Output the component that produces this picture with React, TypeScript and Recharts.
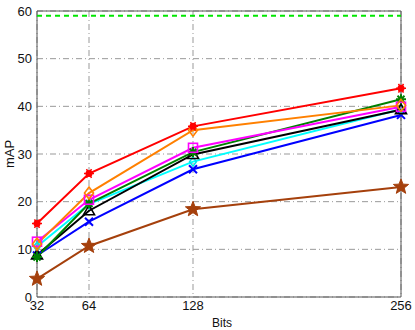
import React from "react";
import {
  CartesianGrid,
  Line,
  LineChart,
  ReferenceArea,
  ReferenceLine,
  XAxis,
  YAxis,
} from "recharts";

const bits = [32, 64, 128, 256];
const yTicks = [0, 10, 20, 30, 40, 50, 60];
const upperBound = 59;

const redSeries = [15.4, 25.9, 35.8, 43.8];
const orangeSeries = [11.1, 21.8, 35.0, 40.2];
const magentaSeries = [11.6, 20.4, 31.3, 39.9];
const cyanSeries = [10.6, 19.5, 28.4, 39.4];
const greenSeries = [8.4, 19.6, 30.4, 41.5];
const blackSeries = [8.8, 18.1, 29.9, 39.3];
const blueSeries = [8.7, 15.8, 26.8, 38.2];
const brownSeries = [3.8, 10.7, 18.4, 23.1];

const data = bits.map((b, i) => ({
  bits: b,
  red: redSeries[i],
  orange: orangeSeries[i],
  magenta: magentaSeries[i],
  cyan: cyanSeries[i],
  green: greenSeries[i],
  black: blackSeries[i],
  blue: blueSeries[i],
  brown: brownSeries[i],
}));

type DotProps = { cx?: number; cy?: number; index?: number };

const RedDot = ({ cx = 0, cy = 0, index }: DotProps) => (
  <g key={index}>
    <circle cx={cx} cy={cy} r={3.5} fill="#ff0000" />
    <path
      d={`M${cx - 5},${cy} L${cx + 5},${cy} M${cx - 2.5},${cy - 4.3} L${cx + 2.5},${cy + 4.3} M${cx - 2.5},${cy + 4.3} L${cx + 2.5},${cy - 4.3}`}
      stroke="#ff0000"
      strokeWidth={1.5}
    />
  </g>
);

const DiamondDot = (color: string, s: number) => ({ cx = 0, cy = 0, index }: DotProps) => (
  <path
    key={index}
    d={`M${cx},${cy - s} L${cx + s * 0.75},${cy} L${cx},${cy + s} L${cx - s * 0.75},${cy} Z`}
    fill="none"
    stroke={color}
    strokeWidth={1.6}
  />
);

const SquareDot = ({ cx = 0, cy = 0, index }: DotProps) => (
  <rect key={index} x={cx - 4.5} y={cy - 4.5} width={9} height={9} fill="none" stroke="#ff00ff" strokeWidth={1.6} />
);

const PlusStarDot = ({ cx = 0, cy = 0, index }: DotProps) => (
  <path
    key={index}
    d={`M${cx - 5},${cy} L${cx + 5},${cy} M${cx},${cy - 5} L${cx},${cy + 5} M${cx - 3.5},${cy - 3.5} L${cx + 3.5},${cy + 3.5} M${cx - 3.5},${cy + 3.5} L${cx + 3.5},${cy - 3.5}`}
    stroke="#008000"
    strokeWidth={2}
  />
);

const TriangleDot = ({ cx = 0, cy = 0, index }: DotProps) => (
  <path
    key={index}
    d={`M${cx},${cy - 5.5} L${cx + 5.5},${cy + 4} L${cx - 5.5},${cy + 4} Z`}
    fill="none"
    stroke="#000000"
    strokeWidth={1.6}
  />
);

const CrossDot = ({ cx = 0, cy = 0, index }: DotProps) => (
  <path
    key={index}
    d={`M${cx - 4},${cy - 4} L${cx + 4},${cy + 4} M${cx - 4},${cy + 4} L${cx + 4},${cy - 4}`}
    stroke="#0000ff"
    strokeWidth={2}
  />
);

const StarDot = ({ cx = 0, cy = 0, index }: DotProps) => {
  const pts: string[] = [];
  for (let k = 0; k < 10; k++) {
    const r = k % 2 === 0 ? 8 : 3.4;
    const a = -Math.PI / 2 + (k * Math.PI) / 5;
    pts.push(`${cx + r * Math.cos(a)},${cy + r * Math.sin(a)}`);
  }
  return <polygon key={index} points={pts.join(" ")} fill="#a5400c" stroke="#a5400c" strokeWidth={1} />;
};

const font = "Liberation Sans, Arial, sans-serif";
const tickStyle = { fill: "#111", fontSize: 13, fontFamily: font };

export default function App() {
  return (
    <div style={{ position: "absolute", left: 0, top: 0, width: 415, height: 330, background: "#fff" }}>
      <LineChart width={415} height={330} data={data} margin={{ top: 11, right: 14, bottom: 0, left: 0 }}>
        <CartesianGrid stroke="#999" strokeDasharray="6 3 1 3" />
        <XAxis
          type="number"
          dataKey="bits"
          domain={[32, 256]}
          ticks={bits}
          height={33}
          tickLine={false}
          axisLine={false}
          tickSize={0}
          tickMargin={4}
          tick={tickStyle}
          label={{
            content: ({ viewBox }: any) => (
              <text x={viewBox.x + viewBox.width / 2 + 3} y={viewBox.y + 30} textAnchor="middle" fontSize={12} fontFamily={font} fill="#111">
                Bits
              </text>
            ),
          }}
        />
        <YAxis
          type="number"
          domain={[0, 60]}
          ticks={yTicks}
          width={37}
          tickLine={false}
          axisLine={false}
          tickSize={0}
          tickMargin={5}
          tick={tickStyle}
          label={{
            content: ({ viewBox }: any) => {
              const cx = 14;
              const cy = viewBox.y + viewBox.height / 2;
              return (
                <text x={cx} y={cy} transform={`rotate(-90 ${cx} ${cy})`} textAnchor="middle" fontSize={13} fontFamily={font} fill="#111">
                  mAP
                </text>
              );
            },
          }}
        />
        <ReferenceLine y={upperBound} stroke="#00e600" strokeWidth={2} strokeDasharray="5 4" />
        <Line dataKey="brown" stroke="#a5400c" strokeWidth={2} dot={StarDot} isAnimationActive={false} />
        <Line dataKey="blue" stroke="#0000ff" strokeWidth={2} dot={CrossDot} isAnimationActive={false} />
        <Line dataKey="cyan" stroke="#00ffff" strokeWidth={2} dot={DiamondDot("#00e5e5", 4.5)} isAnimationActive={false} />
        <Line dataKey="black" stroke="#000000" strokeWidth={2} dot={TriangleDot} isAnimationActive={false} />
        <Line dataKey="green" stroke="#008000" strokeWidth={2} dot={PlusStarDot} isAnimationActive={false} />
        <Line dataKey="magenta" stroke="#ff00ff" strokeWidth={2} dot={SquareDot} isAnimationActive={false} />
        <Line dataKey="orange" stroke="#ff8000" strokeWidth={2} dot={DiamondDot("#ff8000", 6)} isAnimationActive={false} />
        <Line dataKey="red" stroke="#ff0000" strokeWidth={2} dot={RedDot} isAnimationActive={false} />
        <ReferenceArea x1={32} x2={256} y1={0} y2={60} fill="none" stroke="#555" strokeWidth={1} />
      </LineChart>
    </div>
  );
}
